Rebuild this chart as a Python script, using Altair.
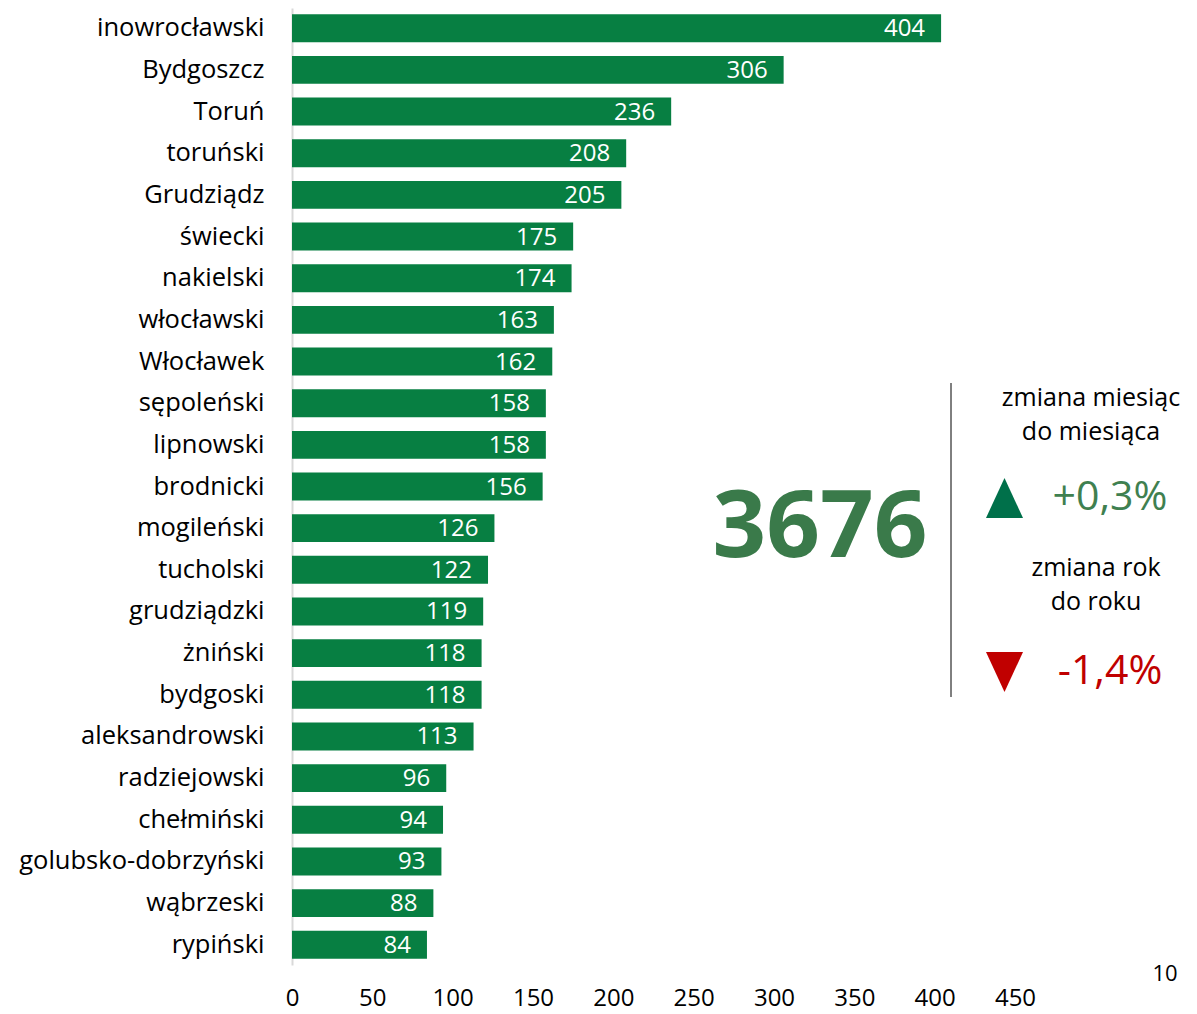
import altair as alt
import pandas as pd

categories = ["inowrocławski", "Bydgoszcz", "Toruń", "toruński", "Grudziądz", "świecki",
              "nakielski", "włocławski", "Włocławek", "sępoleński", "lipnowski", "brodnicki",
              "mogileński", "tucholski", "grudziądzki", "żniński", "bydgoski", "aleksandrowski",
              "radziejowski", "chełmiński", "golubsko-dobrzyński", "wąbrzeski", "rypiński"]
values = [404, 306, 236, 208, 205, 175, 174, 163, 162, 158, 158, 156,
          126, 122, 119, 118, 118, 113, 96, 94, 93, 88, 84]
x_ticks = [0, 50, 100, 150, 200, 250, 300, 350, 400, 450]

total_text = "3676"
mom_label = ["zmiana miesiąc", "do miesiąca"]
mom_value = "+0,3%"
yoy_label = ["zmiana rok", "do roku"]
yoy_value = "-1,4%"
page_number = "10"

FONT = "Open Sans, sans-serif"
BAR = "#077f42"
TRI_UP = "M-0.925,1L0.925,1L0,-1Z"
TRI_DN = "M-0.925,-1L0.925,-1L0,1Z"

df = pd.DataFrame({"cat": categories, "val": values})

x = alt.X("val:Q", scale=alt.Scale(domain=[0, 450], nice=False),
          axis=alt.Axis(values=x_ticks, title=None, grid=False, domain=False, ticks=False,
                        labelFontSize=24, labelColor="#000000", labelPadding=21,
                        labelFont=FONT, labelFlush=False))
y = alt.Y("cat:N", sort=categories,
          scale=alt.Scale(paddingInner=0.33, paddingOuter=0.15),
          axis=alt.Axis(title=None, ticks=False, domain=True, domainColor="#d9d9d9",
                        domainWidth=2, labelFontSize=25.5, labelColor="#000000",
                        labelPadding=28, labelFont=FONT, labelLimit=400))

bars = alt.Chart(df).mark_bar(color=BAR).encode(x=x, y=y)
labels = alt.Chart(df).mark_text(align="right", baseline="middle", dx=-16, dy=1,
                                 color="white", fontSize=24, font=FONT).encode(
    x="val:Q", y=alt.Y("cat:N", sort=categories), text="val:Q")

def txt(t, px, py, size, color="#000000", weight="normal"):
    return alt.Chart(pd.DataFrame({"t": [t]})).mark_text(
        align="center", baseline="middle", fontSize=size, color=color,
        fontWeight=weight, font=FONT).encode(
        text="t:N", x=alt.value(px), y=alt.value(py))

big = txt(total_text, 528, 521, 94, "#3a7a4a", "bold")
rule = alt.Chart(pd.DataFrame({"a": [0]})).mark_rule(color="#000000", strokeWidth=1).encode(
    x=alt.value(659), y=alt.value(375), y2=alt.value(689))

m1 = txt(mom_label[0], 799, 390, 25)
m2 = txt(mom_label[1], 799, 424, 25)
mv = txt(mom_value, 818, 490, 41, "#3f8050")
y1 = txt(yoy_label[0], 804, 560, 25)
y2 = txt(yoy_label[1], 804, 594, 25)
yv = txt(yoy_value, 818, 664, 41, "#c00000")
pg = txt(page_number, 873, 966, 22)

tri_up = alt.Chart(pd.DataFrame({"a": [0]})).mark_point(
    shape=TRI_UP, filled=True, size=1600, color="#00704a", opacity=1, strokeWidth=0).encode(
    x=alt.value(712.5), y=alt.value(490))
tri_dn = alt.Chart(pd.DataFrame({"a": [0]})).mark_point(
    shape=TRI_DN, filled=True, size=1600, color="#c00000", opacity=1, strokeWidth=0).encode(
    x=alt.value(712.5), y=alt.value(664))

chart = alt.layer(bars, labels, big, rule, m1, m2, mv, y1, y2, yv, pg, tri_up, tri_dn).properties(
    width=723, height=957,
    autosize=alt.AutoSizeParams(type="none"),
    padding={"left": 284, "top": 0, "right": 174, "bottom": 48},
).configure(background="white").configure_view(strokeWidth=0, stroke=None)

chart.save("out.html", embed_options={"renderer": "svg", "actions": False})
